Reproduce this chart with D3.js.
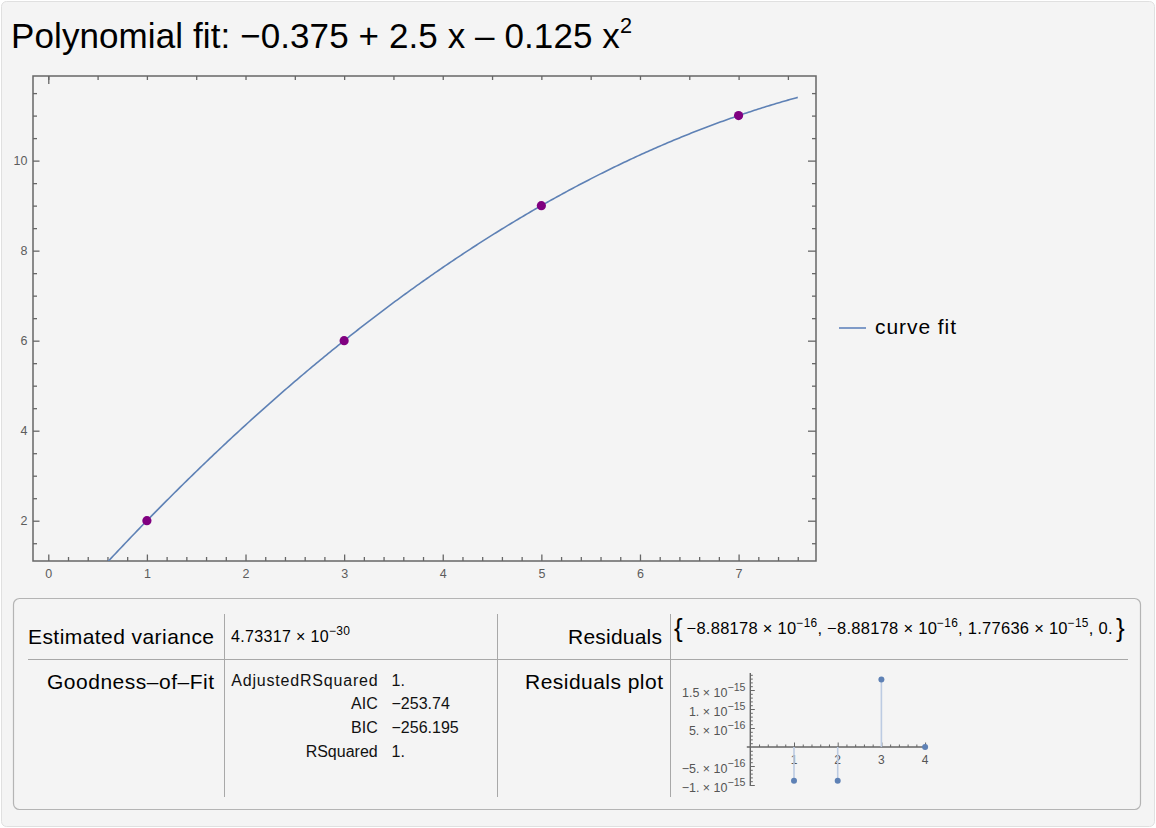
<!DOCTYPE html>
<html>
<head>
<meta charset="utf-8">
<script src="https://cdn.jsdelivr.net/npm/d3@7"></script>
<style>
  html, body { margin: 0; padding: 0; background: #ffffff; }
  svg { display: block; font-family: "Liberation Sans", Arial, Helvetica, sans-serif; }
</style>
</head>
<body>
<svg id="chart" width="1156" height="828"></svg>
<script>
// ---------------- DATA ----------------
const fitCoefficients = [-0.375, 2.5, -0.125];          // c0 + c1 x + c2 x^2 (from title)
const curveDomain = [0, 7.6];                            // x range over which fit is drawn
const dataX = [1, 3, 5, 7];
const dataY = [2, 6, 9, 11];
const xTickValues = [0, 1, 2, 3, 4, 5, 6, 7];
const yTickValues = [2, 4, 6, 8, 10];
const legendLabels = ["curve fit"];

const titleParts = [{t: "Polynomial fit: \u22120.375 + 2.5 x \u2013 0.125 x"}, {t: "2", sup: true}];

const varianceParts = [{t: "4.73317 \u00d7 10"}, {t: "\u221230", sup: true}];
const residualsText = [
  {t: "\u22128.88178 \u00d7 10"}, {t: "\u221216", sup: true},
  {t: ", \u22128.88178 \u00d7 10"}, {t: "\u221216", sup: true},
  {t: ", 1.77636 \u00d7 10"}, {t: "\u221215", sup: true},
  {t: ", 0."}
];
const goodnessLabels = ["AdjustedRSquared", "AIC", "BIC", "RSquared"];
const goodnessValues = ["1.", "\u2212253.74", "\u2212256.195", "1."];

const residIndex = [1, 2, 3, 4];
const residValues = [-8.88178e-16, -8.88178e-16, 1.77636e-15, 0];
const residXTicks = [1, 2, 3, 4];
const residYTicks = [-1e-15, -5e-16, 5e-16, 1e-15, 1.5e-15];
const residYTickMantissa = ["\u22121.", "\u22125.", "5.", "1.", "1.5"];
const residYTickExponent = ["\u221215", "\u221216", "\u221216", "\u221215", "\u221215"];

// ---------------- HELPERS ----------------
const svg = d3.select("#chart");
const AXIS = "#666666";
const LABEL = "#555555";
const BLUE = "#5e81b5";

function rich(g, x, y, parts, size, opts = {}) {
  const t = g.append("text").attr("x", x).attr("y", y)
    .attr("font-size", size).attr("fill", opts.fill || "#000")
    .attr("text-anchor", opts.anchor || "start");
  const supSize = size * (opts.supScale || 0.7);
  const rise = size * (opts.rise || 0.45);
  let raised = false;
  parts.forEach(p => {
    const s = t.append("tspan").text(p.t);
    if (p.sup) { s.attr("font-size", supSize).attr("dy", raised ? 0 : -rise); raised = true; }
    else { if (raised) s.attr("dy", rise); raised = false; }
  });
  if (opts.width) t.attr("textLength", opts.width).attr("lengthAdjust", "spacing");
  return t;
}

// ---------------- BACKGROUND ----------------
svg.append("rect").attr("x", 1.5).attr("y", 1.5).attr("width", 1153).attr("height", 825)
  .attr("rx", 5).attr("fill", "#f4f4f4").attr("stroke", "#e0e0e0");

// ---------------- TITLE ----------------
rich(svg, 11, 47.5, titleParts, 35, {width: 621, supScale: 0.62, rise: 0.42});

// ---------------- MAIN PLOT ----------------
const L = 33, R = 816, T = 76, B = 561;
const x = d3.scaleLinear().domain([-0.155, 7.785]).range([L, R]);
const y = d3.scaleLinear().domain([1.105, 11.88]).range([B, T]);

const plot = svg.append("g");
plot.append("defs").append("clipPath").attr("id", "clip")
  .append("rect").attr("x", L).attr("y", T).attr("width", R - L).attr("height", B - T);

const xMinor = d3.range(0, 7.81, 0.2).filter(v => Math.abs(v - Math.round(v)) > 1e-6 && v <= 7.7);
const yMinor = d3.range(1.5, 11.9, 0.5).filter(v => v % 2 !== 0);
const xHalf = d3.range(0, 7.81, 0.5);
const yHalf = d3.range(1.5, 11.9, 0.5);

function styleAxis(g) {
  g.select(".domain").remove();
  g.selectAll(".tick line").attr("stroke", AXIS).attr("stroke-width", 1.3);
  g.selectAll(".tick text").attr("fill", "#5c5c5c").attr("font-size", 12.5)
    .attr("font-family", "Liberation Sans, Arial, sans-serif");
}

// bottom
plot.append("g").attr("transform", `translate(0,${B})`)
  .call(d3.axisBottom(x).tickValues(xMinor).tickSize(-4).tickFormat(""))
  .call(styleAxis);
plot.append("g").attr("transform", `translate(0,${B})`)
  .call(d3.axisBottom(x).tickValues(xTickValues).tickSize(-6.5).tickPadding(8).tickFormat(d3.format("d")))
  .call(styleAxis);
// left
plot.append("g").attr("transform", `translate(${L},0)`)
  .call(d3.axisLeft(y).tickValues(yMinor).tickSize(-4).tickFormat(""))
  .call(styleAxis);
plot.append("g").attr("transform", `translate(${L},0)`)
  .call(d3.axisLeft(y).tickValues(yTickValues).tickSize(-6.5).tickPadding(5.5).tickFormat(d3.format("d")))
  .call(styleAxis);
// top
plot.append("g").attr("transform", `translate(0,${T})`)
  .call(d3.axisTop(x).tickValues(xHalf).tickSize(-4).tickFormat(""))
  .call(styleAxis);
plot.append("g").attr("transform", `translate(0,${T})`)
  .call(d3.axisTop(x).tickValues([0]).tickSize(-8).tickFormat(""))
  .call(styleAxis);
// right
plot.append("g").attr("transform", `translate(${R},0)`)
  .call(d3.axisRight(y).tickValues(yHalf.filter(v => v % 2 !== 0)).tickSize(-4).tickFormat(""))
  .call(styleAxis);
plot.append("g").attr("transform", `translate(${R},0)`)
  .call(d3.axisRight(y).tickValues(yTickValues).tickSize(-8).tickFormat(""))
  .call(styleAxis);

plot.append("rect").attr("x", L).attr("y", T).attr("width", R - L).attr("height", B - T)
  .attr("fill", "none").attr("stroke", AXIS).attr("stroke-width", 1.5);

// fitted curve
const poly = v => fitCoefficients.reduce((s, c, i) => s + c * Math.pow(v, i), 0);
const curveX = d3.range(curveDomain[0], curveDomain[1] + 1e-9, 0.02);
plot.append("path").attr("clip-path", "url(#clip)")
  .datum(curveX)
  .attr("fill", "none").attr("stroke", BLUE).attr("stroke-width", 1.6)
  .attr("d", d3.line().x(d => x(d)).y(d => y(poly(d))));

// data points
plot.selectAll("circle.pt").data(dataX).join("circle").attr("class", "pt")
  .attr("cx", d => x(d)).attr("cy", (d, i) => y(dataY[i])).attr("r", 4.6)
  .attr("fill", "#800080");

// legend
const lg = svg.append("g");
lg.append("line").attr("x1", 839).attr("x2", 866).attr("y1", 328).attr("y2", 328)
  .attr("stroke", "#7f9bc8").attr("stroke-width", 2);
lg.append("text").attr("x", 875).attr("y", 334.3).attr("font-size", 21)
  .attr("textLength", 81).attr("lengthAdjust", "spacing").text(legendLabels[0]);

// ---------------- TABLE ----------------
const tb = svg.append("g");
tb.append("rect").attr("x", 13.5).attr("y", 598.5).attr("width", 1127).attr("height", 211)
  .attr("rx", 6).attr("fill", "#f4f4f4").attr("stroke", "#b4b4b4").attr("stroke-width", 1.2);
tb.append("line").attr("x1", 28).attr("x2", 1128).attr("y1", 659.5).attr("y2", 659.5)
  .attr("stroke", "#a8a8a8");
[224.5, 497.5, 670.5].forEach(v => tb.append("line").attr("x1", v).attr("x2", v)
  .attr("y1", 614).attr("y2", 797).attr("stroke", "#a8a8a8"));

tb.append("text").attr("x", 214).attr("y", 644.3).attr("font-size", 21).attr("text-anchor", "end")
  .attr("textLength", 186).attr("lengthAdjust", "spacing").text("Estimated variance");
tb.append("text").attr("x", 214).attr("y", 689).attr("font-size", 21).attr("text-anchor", "end")
  .attr("textLength", 167).attr("lengthAdjust", "spacing").text("Goodness\u2013of\u2013Fit");
tb.append("text").attr("x", 662).attr("y", 644.3).attr("font-size", 21).attr("text-anchor", "end")
  .attr("textLength", 94).attr("lengthAdjust", "spacing").text("Residuals");
tb.append("text").attr("x", 663).attr("y", 689).attr("font-size", 21).attr("text-anchor", "end")
  .attr("textLength", 138).attr("lengthAdjust", "spacing").text("Residuals plot");

rich(tb, 231, 641.7, varianceParts, 16, {width: 119, supScale: 0.75, rise: 0.4});

// residual list with braces
tb.append("text").attr("x", 674).attr("y", 637).attr("font-size", 26).attr("font-weight", 300).text("{");
rich(tb, 686.5, 634, residualsText, 16.5, {width: 426, supScale: 0.72, rise: 0.4});
tb.append("text").attr("x", 1116).attr("y", 637).attr("font-size", 26).text("}");

goodnessLabels.forEach((lab, i) => {
  const yy = 685.5 + i * 23.7;
  tb.append("text").attr("x", 377.7).attr("y", yy).attr("font-size", 16).attr("text-anchor", "end")
    .attr("fill", "#111").text(lab);
  tb.append("text").attr("x", 391.5).attr("y", yy).attr("font-size", 16).attr("fill", "#111")
    .text(goodnessValues[i]);
});
tb.selectAll("text").filter(function () { return d3.select(this).text() === "AdjustedRSquared"; })
  .attr("textLength", 146.5).attr("lengthAdjust", "spacing");

// ---------------- RESIDUALS PLOT ----------------
const rx = d3.scaleLinear().domain([0, 4]).range([750.3, 925.1]);
const ry = d3.scaleLinear().domain([-1e-15, 1.5e-15]).range([785, 690]);
const rp = tb.append("g");
const rxMinor = d3.range(0.2, 4.01, 0.2).filter(v => Math.abs(v - Math.round(v)) > 1e-6);
const ryMinor = d3.range(-10, 20, 1).map(k => k * 1e-16).filter(v => Math.abs(Math.round(v / 5e-16) * 5e-16 - v) > 1e-20);

function styleR(g) {
  g.select(".domain").remove();
  g.selectAll(".tick line").attr("stroke", AXIS).attr("stroke-width", 1);
}
const y0 = ry(0), x0 = rx(0);
rp.append("g").attr("transform", `translate(0,${y0})`)
  .call(d3.axisTop(rx).tickValues(rxMinor).tickSize(2.5).tickFormat("")).call(styleR);
rp.append("g").attr("transform", `translate(0,${y0})`)
  .call(d3.axisTop(rx).tickValues(residXTicks).tickSize(4.5).tickFormat("")).call(styleR);
rp.append("g").attr("transform", `translate(${x0},0)`)
  .call(d3.axisRight(ry).tickValues(ryMinor).tickSize(2.5).tickFormat("")).call(styleR);
rp.append("g").attr("transform", `translate(${x0},0)`)
  .call(d3.axisRight(ry).tickValues(residYTicks).tickSize(4.5).tickFormat("")).call(styleR);
rp.append("line").attr("x1", rx(-0.08)).attr("x2", rx(4.04)).attr("y1", y0).attr("y2", y0)
  .attr("stroke", AXIS).attr("stroke-width", 1.4);
rp.append("line").attr("x1", x0).attr("x2", x0).attr("y1", ry(1.947e-15)).attr("y2", ry(-1.026e-15))
  .attr("stroke", AXIS).attr("stroke-width", 1.4);

residXTicks.forEach(v => rp.append("text").attr("x", rx(v)).attr("y", 764)
  .attr("text-anchor", "middle").attr("font-size", 12).attr("fill", LABEL).text(d3.format("d")(v)));
residYTicks.forEach((v, i) => {
  rich(rp, 745.5, ry(v) + 6.5, [{t: residYTickMantissa[i] + " \u00d7 10"}, {t: residYTickExponent[i], sup: true}],
    12.5, {anchor: "end", fill: LABEL, supScale: 0.85, rise: 0.42});
});

rp.selectAll("line.stem").data(residIndex).join("line").attr("class", "stem")
  .attr("x1", d => rx(d)).attr("x2", d => rx(d)).attr("y1", y0).attr("y2", (d, i) => ry(residValues[i]))
  .attr("stroke", "#bccbe2").attr("stroke-width", 1.6);
rp.selectAll("circle.rp").data(residIndex).join("circle").attr("class", "rp")
  .attr("cx", d => rx(d)).attr("cy", (d, i) => ry(residValues[i])).attr("r", 3)
  .attr("fill", BLUE);
</script>
</body>
</html>
